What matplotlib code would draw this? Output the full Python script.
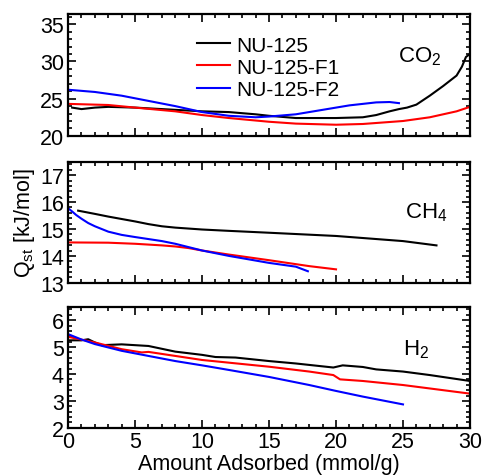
import matplotlib
matplotlib.use("Agg")
import matplotlib.pyplot as plt
from matplotlib.ticker import MultipleLocator

plt.rcParams['font.family'] = ['Liberation Sans', 'DejaVu Sans']
plt.rcParams['mathtext.fontset'] = 'custom'
plt.rcParams['mathtext.rm'] = 'Liberation Sans'
plt.rcParams['mathtext.it'] = 'Liberation Sans'

names = ["NU-125", "NU-125-F1", "NU-125-F2"]
colors = ["black", "red", "blue"]

# CO2 isosteric heats
co2_x_0 = [0.3, 1, 2, 3, 5, 8, 10, 12, 14, 15, 17, 20, 22, 23, 24, 24.7, 25.3, 26, 27, 28, 29, 29.4, 29.7, 30]
co2_q_0 = [23.8, 23.6, 23.8, 23.9, 23.8, 23.5, 23.3, 23.2, 22.9, 22.7, 22.4, 22.4, 22.5, 22.8, 23.3, 23.6, 23.8, 24.2, 25.4, 26.7, 28.1, 29.3, 30.6, 31.0]
co2_x_1 = [0, 3, 5, 8, 10, 12, 15, 17, 20, 22, 25, 27, 29, 30]
co2_q_1 = [24.3, 24.15, 23.8, 23.3, 22.8, 22.4, 21.9, 21.65, 21.5, 21.6, 22.0, 22.5, 23.3, 23.9]
co2_x_2 = [0, 2, 4, 6, 8, 10, 12, 14, 15, 17, 19, 21, 23, 24, 24.7]
co2_q_2 = [26.2, 25.9, 25.4, 24.7, 24.0, 23.2, 22.7, 22.5, 22.6, 22.9, 23.5, 24.1, 24.5, 24.55, 24.4]

# CH4 isosteric heats
ch4_x_0 = [0.75, 2, 3, 4, 5, 6, 7, 8, 10, 12, 15, 20, 25, 27.5]
ch4_q_0 = [15.68, 15.56, 15.46, 15.37, 15.28, 15.18, 15.1, 15.05, 14.98, 14.93, 14.86, 14.74, 14.55, 14.39]
ch4_x_1 = [0, 3, 5, 7, 8, 9, 10, 12, 15, 18, 20]
ch4_q_1 = [14.5, 14.49, 14.45, 14.39, 14.35, 14.29, 14.2, 14.05, 13.84, 13.62, 13.5]
ch4_x_2 = [0, 0.3, 0.6, 1, 1.5, 2, 2.5, 3, 4, 5, 7, 8, 10, 12, 15, 17, 17.9]
ch4_q_2 = [15.77, 15.65, 15.52, 15.38, 15.22, 15.1, 15.0, 14.9, 14.78, 14.7, 14.55, 14.45, 14.2, 14.0, 13.74, 13.6, 13.43]

# H2 isosteric heats
h2_x_0 = [0, 1, 1.5, 2, 2.5, 4, 6, 8, 10, 11, 12.5, 15, 17, 19.8, 20.5, 22, 23, 25, 27, 30]
h2_q_0 = [5.25, 5.25, 5.29, 5.17, 5.07, 5.1, 5.04, 4.83, 4.71, 4.63, 4.61, 4.48, 4.39, 4.24, 4.32, 4.26, 4.17, 4.09, 3.96, 3.74]
h2_x_1 = [0, 2, 4, 5.5, 6, 8, 10, 12, 15, 18, 19.8, 20.3, 22, 25, 30]
h2_q_1 = [5.38, 5.17, 4.92, 4.8, 4.82, 4.67, 4.52, 4.42, 4.27, 4.09, 3.96, 3.8, 3.74, 3.59, 3.27]
h2_x_2 = [0, 1, 2, 4, 6, 8, 10, 12, 15, 18, 20, 22, 25]
h2_q_2 = [5.48, 5.28, 5.11, 4.86, 4.67, 4.48, 4.32, 4.15, 3.89, 3.59, 3.37, 3.16, 2.87]

panels = [
    ("CO$_2$", [(co2_x_0, co2_q_0), (co2_x_1, co2_q_1), (co2_x_2, co2_q_2)], (20, 36.4), 5, 1),
    ("CH$_4$", [(ch4_x_0, ch4_q_0), (ch4_x_1, ch4_q_1), (ch4_x_2, ch4_q_2)], (13, 17.5), 1, 0.2),
    ("H$_2$", [(h2_x_0, h2_q_0), (h2_x_1, h2_q_1), (h2_x_2, h2_q_2)], (2, 6.5), 1, 0.2),
]

fig = plt.figure(figsize=(4.83, 4.77), dpi=100)
rects = [
    [0.141, 0.713, 0.832, 0.256],
    [0.141, 0.405, 0.832, 0.254],
    [0.141, 0.101, 0.832, 0.254],
]
label_pos = [(0.875, 0.66), (0.89, 0.59), (0.865, 0.65)]

axes = []
for i, (gas, series, ylim, major, minor) in enumerate(panels):
    ax = fig.add_axes(rects[i])
    for (x, q), c, n in zip(series, colors, names):
        ax.plot(x, q, color=c, lw=1.5, label=n)
    ax.set_xlim(0, 30)
    ax.set_ylim(*ylim)
    ax.xaxis.set_major_locator(MultipleLocator(5))
    ax.xaxis.set_minor_locator(MultipleLocator(1))
    ax.yaxis.set_major_locator(MultipleLocator(major))
    ax.yaxis.set_minor_locator(MultipleLocator(minor))
    ax.tick_params(which='both', direction='in', top=True, right=True,
                   labelsize=15.5, width=1.2, pad=3)
    ax.tick_params(which='major', length=6)
    ax.tick_params(which='minor', length=3)
    for s in ax.spines.values():
        s.set_linewidth(1.6)
    ax.text(*label_pos[i], gas, transform=ax.transAxes, fontsize=16,
            ha='center', va='center')
    if i < 2:
        ax.tick_params(labelbottom=False)
    axes.append(ax)

axes[2].tick_params(axis='x', pad=2)

axes[0].legend(loc='upper left', bbox_to_anchor=(0.3, 0.89), frameon=False,
               fontsize=15, handlelength=1.6, handletextpad=0.3,
               labelspacing=0.15, borderaxespad=0)
axes[2].set_xlabel("Amount Adsorbed (mmol/g)", fontsize=15.5, labelpad=1)
axes[1].set_ylabel("Q$_{st}$ [kJ/mol]", fontsize=15.5, labelpad=2)

fig.savefig("out.png", dpi=100)
